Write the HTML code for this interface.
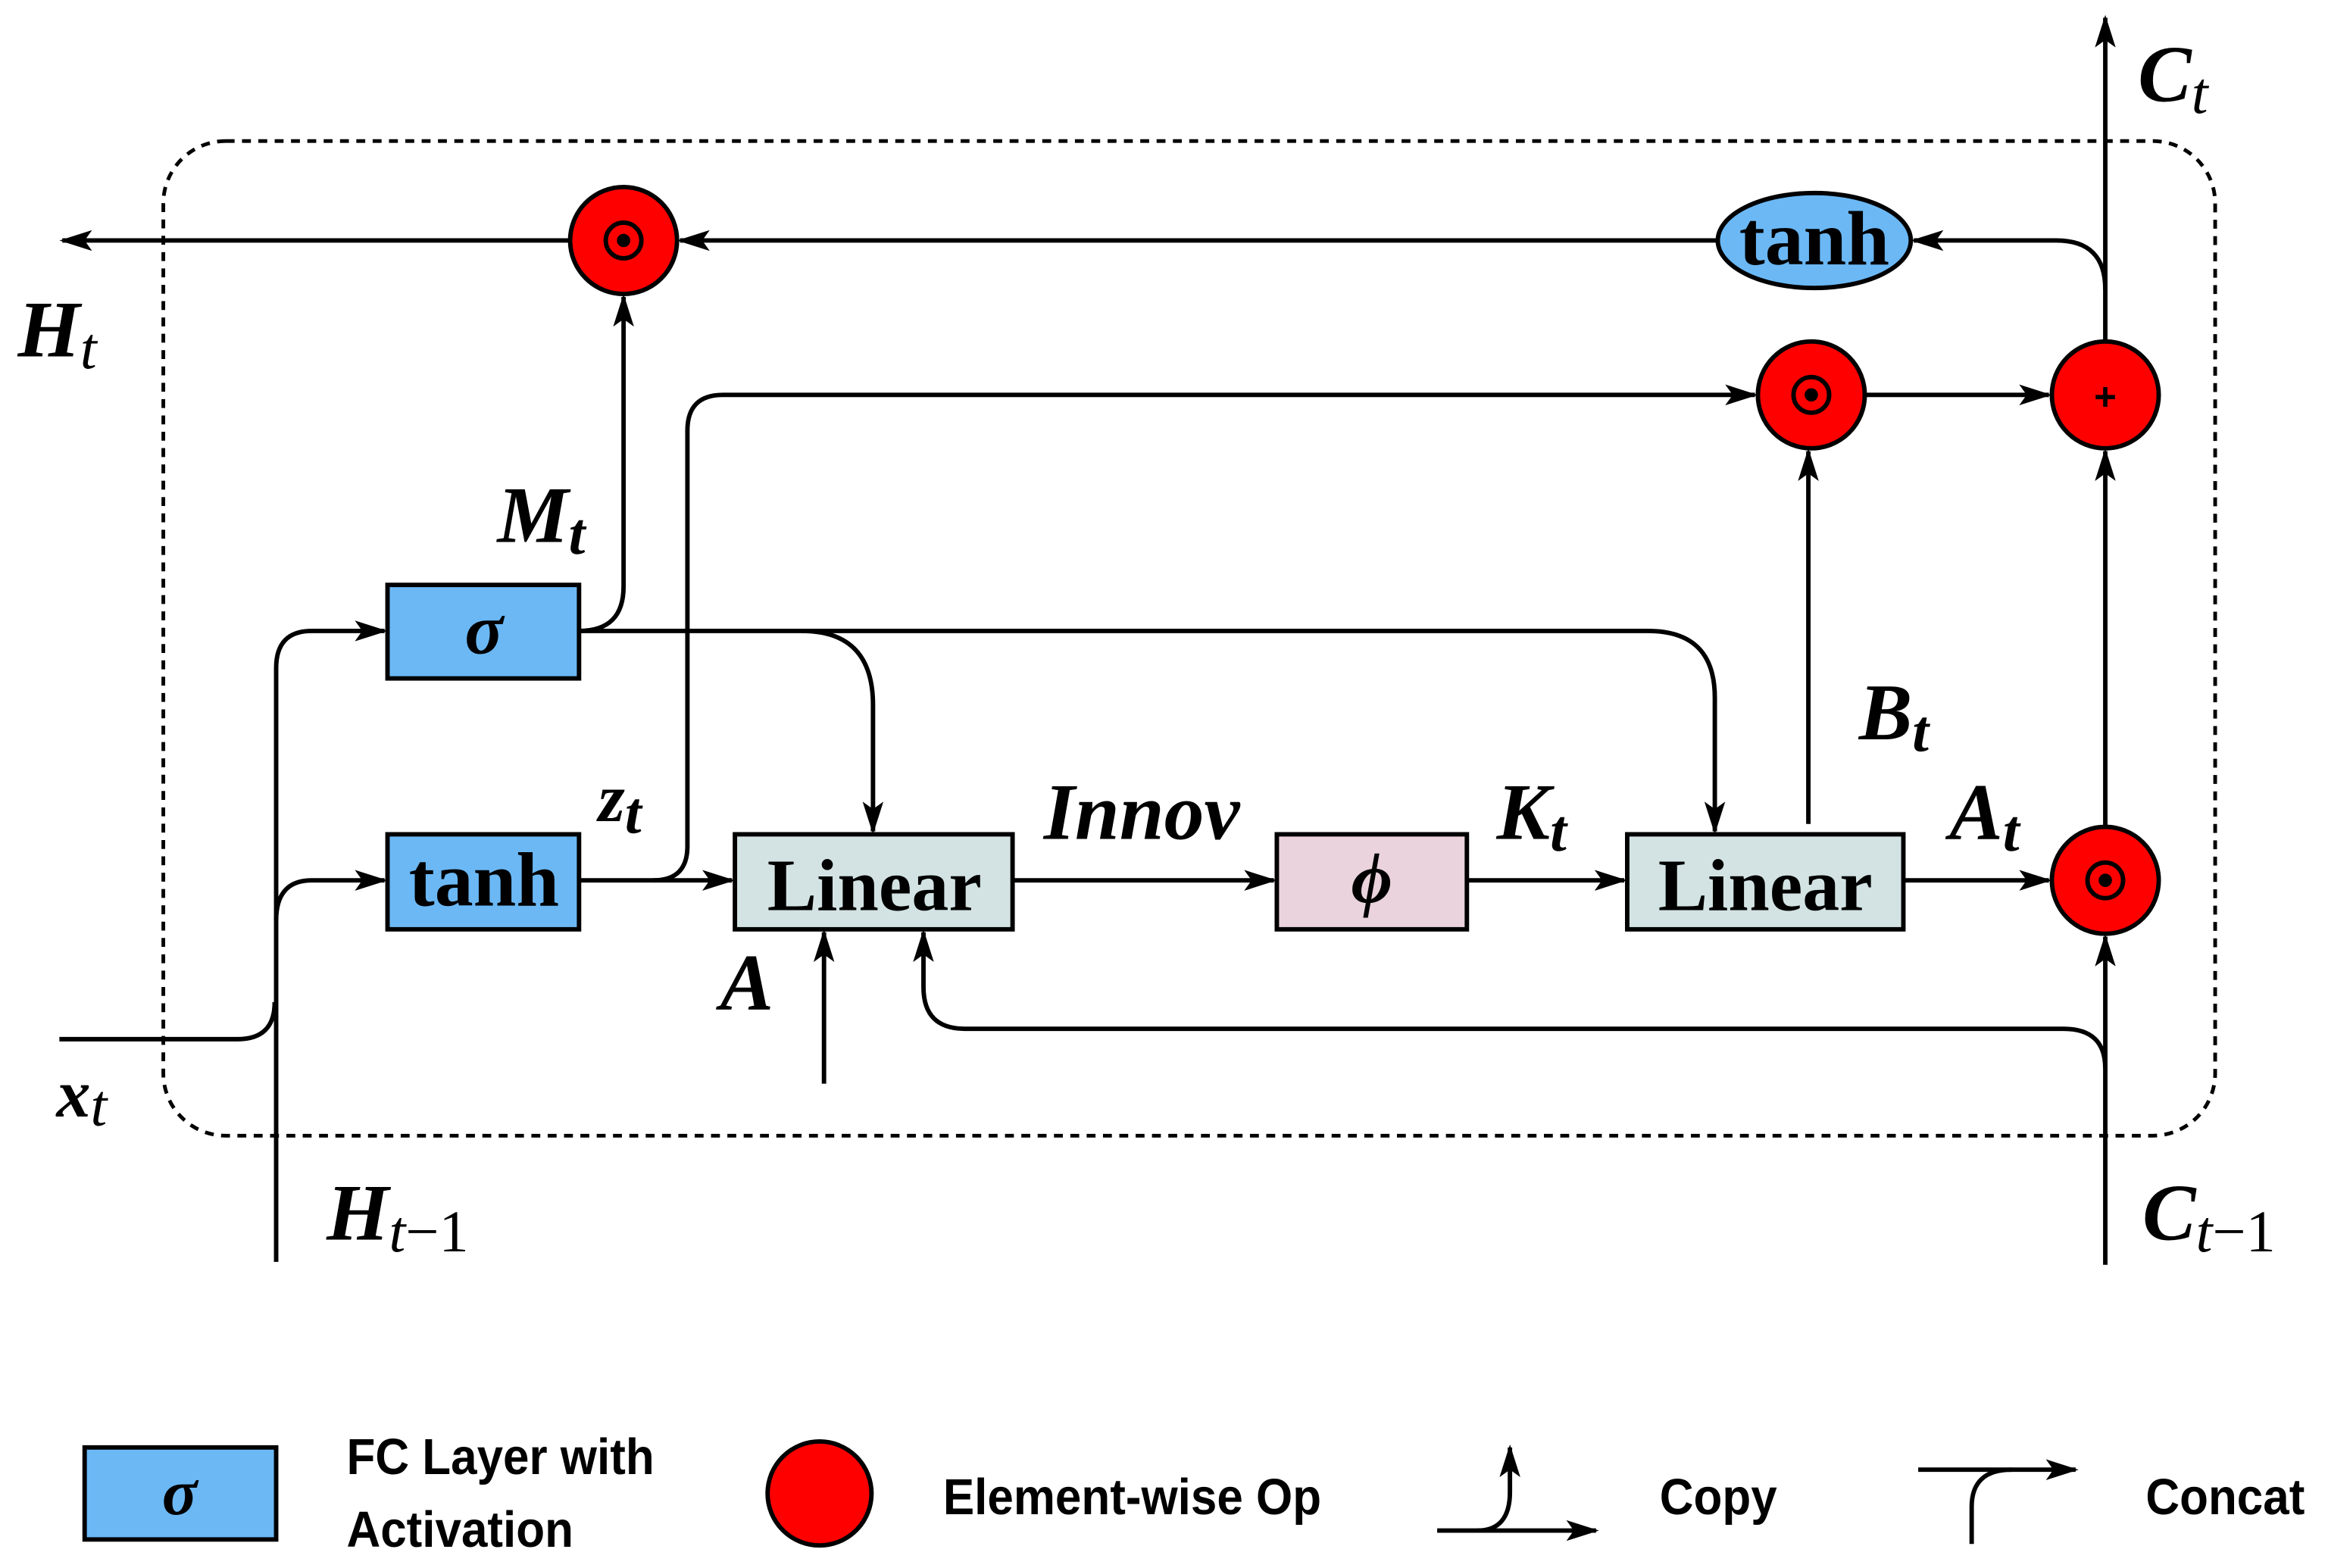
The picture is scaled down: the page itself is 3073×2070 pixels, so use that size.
<!DOCTYPE html>
<html><head><meta charset="utf-8"><style>
html,body{margin:0;padding:0;background:#fff;}
svg{display:block;}
.m{font-family:"Liberation Serif",serif;font-weight:bold;font-style:italic;}
.s{font-family:"Liberation Sans",sans-serif;font-weight:bold;}
</style></head><body>
<svg width="3073" height="2070" viewBox="0 0 1568 1056" preserveAspectRatio="xMinYMin meet" xmlns="http://www.w3.org/2000/svg">
<defs>
<marker id="b" markerWidth="22" markerHeight="14" refX="20" refY="7" orient="auto" markerUnits="userSpaceOnUse" viewBox="0 0 22 14">
<path d="M0,0 L22,7 L0,14 L5,7 Z" fill="#000"/></marker>
</defs>
<g fill="none" stroke="#000" stroke-width="3">
<rect x="110" y="95" width="1382" height="670" rx="42" stroke-dasharray="6,5" stroke-width="2.5"/>
<line x1="384" y1="162" x2="42" y2="162" marker-end="url(#b)"/>
<line x1="1157" y1="162" x2="458" y2="162" marker-end="url(#b)"/>
<line x1="1418" y1="230" x2="1418" y2="12" marker-end="url(#b)"/>
<path d="M1418,195 Q1418,162 1385,162 L1289,162" marker-end="url(#b)"/>
<line x1="1256" y1="266" x2="1380" y2="266" marker-end="url(#b)"/>
<path d="M390,593 L440,593 Q463,593 463,570 L463,290 Q463,266 487,266 L1182,266" marker-end="url(#b)"/>
<line x1="440" y1="593" x2="493" y2="593" marker-end="url(#b)"/>
<path d="M390,425 Q420,425 420,395 L420,200" marker-end="url(#b)"/>
<path d="M390,425 L1110,425 Q1155,425 1155,470 L1155,560" marker-end="url(#b)"/>
<path d="M540,425 Q588,425 588,475 L588,560" marker-end="url(#b)"/>
<line x1="682" y1="593" x2="858" y2="593" marker-end="url(#b)"/>
<line x1="988" y1="593" x2="1094" y2="593" marker-end="url(#b)"/>
<line x1="1282" y1="593" x2="1380" y2="593" marker-end="url(#b)"/>
<line x1="1218" y1="555" x2="1218" y2="304" marker-end="url(#b)"/>
<line x1="1418" y1="556" x2="1418" y2="304" marker-end="url(#b)"/>
<line x1="1418" y1="852" x2="1418" y2="631" marker-end="url(#b)"/>
<path d="M1418,720 Q1418,693 1390,693 L650,693 Q622,693 622,665 L622,628" marker-end="url(#b)"/>
<line x1="555" y1="730" x2="555" y2="628" marker-end="url(#b)"/>
<path d="M40,700 L160,700 Q185,700 185,675"/>
<path d="M186,850 L186,450 Q186,425 210,425 L259,425" marker-end="url(#b)"/>
<path d="M186,620 Q186,593 210,593 L259,593" marker-end="url(#b)"/>
</g>
<g stroke="#000" stroke-width="3">
<rect x="261" y="394" width="129" height="63" fill="#6bb8f5"/>
<rect x="261" y="562" width="129" height="64" fill="#6bb8f5"/>
<rect x="495" y="562" width="187" height="64" fill="#d3e3e3"/>
<rect x="860" y="562" width="128" height="64" fill="#ead3dc"/>
<rect x="1096" y="562" width="186" height="64" fill="#d3e3e3"/>
<ellipse cx="1222" cy="162" rx="65" ry="32" fill="#6bb8f5"/>
<g fill="#f00">
<circle cx="420" cy="162" r="36"/><circle cx="1220" cy="266" r="36"/>
<circle cx="1418" cy="266" r="36"/><circle cx="1418" cy="593" r="36"/>
</g>
<g fill="none" stroke-width="3">
<circle cx="420" cy="162" r="12"/><circle cx="1220" cy="266" r="12"/><circle cx="1418" cy="593" r="12"/>
</g>
</g>
<g fill="#000">
<circle cx="420" cy="162" r="4.5"/><circle cx="1220" cy="266" r="4.5"/><circle cx="1418" cy="593" r="4.5"/>
</g>
<text x="1418" y="276" font-family="Liberation Sans" font-size="26" font-weight="bold" text-anchor="middle">+</text>
<g font-family="Liberation Serif,serif" font-weight="bold" text-anchor="middle">
<text x="1222" y="178" font-size="52">tanh</text>
<text x="326" y="610" font-size="52">tanh</text>
<text x="589" y="613" font-size="50">Linear</text>
<text x="1189" y="613" font-size="50">Linear</text>
</g>
<g class="m" text-anchor="middle" font-size="48">
<text x="326" y="440">σ</text>
<text x="924" y="608">ϕ</text>
</g>
<g class="m" font-size="54">
<text x="12" y="240">H<tspan font-size="40" dy="8" font-weight="normal">t</tspan></text>
<text x="38" y="752" font-size="46">x<tspan font-size="40" dy="6" font-weight="normal">t</tspan></text>
<text x="220" y="835">H<tspan font-size="40" dy="8" font-weight="normal">t</tspan><tspan font-size="40" font-weight="normal" font-style="normal">−1</tspan></text>
<text x="1443" y="835">C<tspan font-size="40" dy="8" font-weight="normal">t</tspan><tspan font-size="40" font-weight="normal" font-style="normal">−1</tspan></text>
<text x="1440" y="68">C<tspan font-size="40" dy="8" font-weight="normal">t</tspan></text>
<text x="335" y="365">M<tspan font-size="40" dy="8">t</tspan></text>
<text x="403" y="553" font-size="46">z<tspan font-size="40" dy="8">t</tspan></text>
<text x="703" y="565">Innov</text>
<text x="1008" y="565">K<tspan font-size="40" dy="8">t</tspan></text>
<text x="1252" y="498">B<tspan font-size="40" dy="8">t</tspan></text>
<text x="485" y="680">A</text>
<text x="1313" y="565">A<tspan font-size="40" dy="8">t</tspan></text>
</g>
<rect x="57" y="975" width="129" height="62" fill="#6bb8f5" stroke="#000" stroke-width="3"/>
<text x="121" y="1020" class="m" font-size="44" text-anchor="middle">σ</text>
<circle cx="552" cy="1006" r="35" fill="#f00" stroke="#000" stroke-width="3"/>
<g class="s" font-size="34" transform="scale(0.93,1)">
<text x="251" y="993">FC Layer with</text>
<text x="251" y="1042">Activation</text>
<text x="683" y="1020">Element-wise Op</text>
<text x="1202" y="1020">Copy</text>
<text x="1554" y="1020">Concat</text>
</g>
<g fill="none" stroke="#000" stroke-width="3">
<line x1="968" y1="1031" x2="1075" y2="1031" marker-end="url(#b)"/>
<path d="M995,1031 Q1017,1031 1017,1005 L1017,975" marker-end="url(#b)"/>
<line x1="1292" y1="990" x2="1398" y2="990" marker-end="url(#b)"/>
<path d="M1355,990 Q1328,990 1328,1015 L1328,1040"/>
</g>
</svg>
</body></html>
